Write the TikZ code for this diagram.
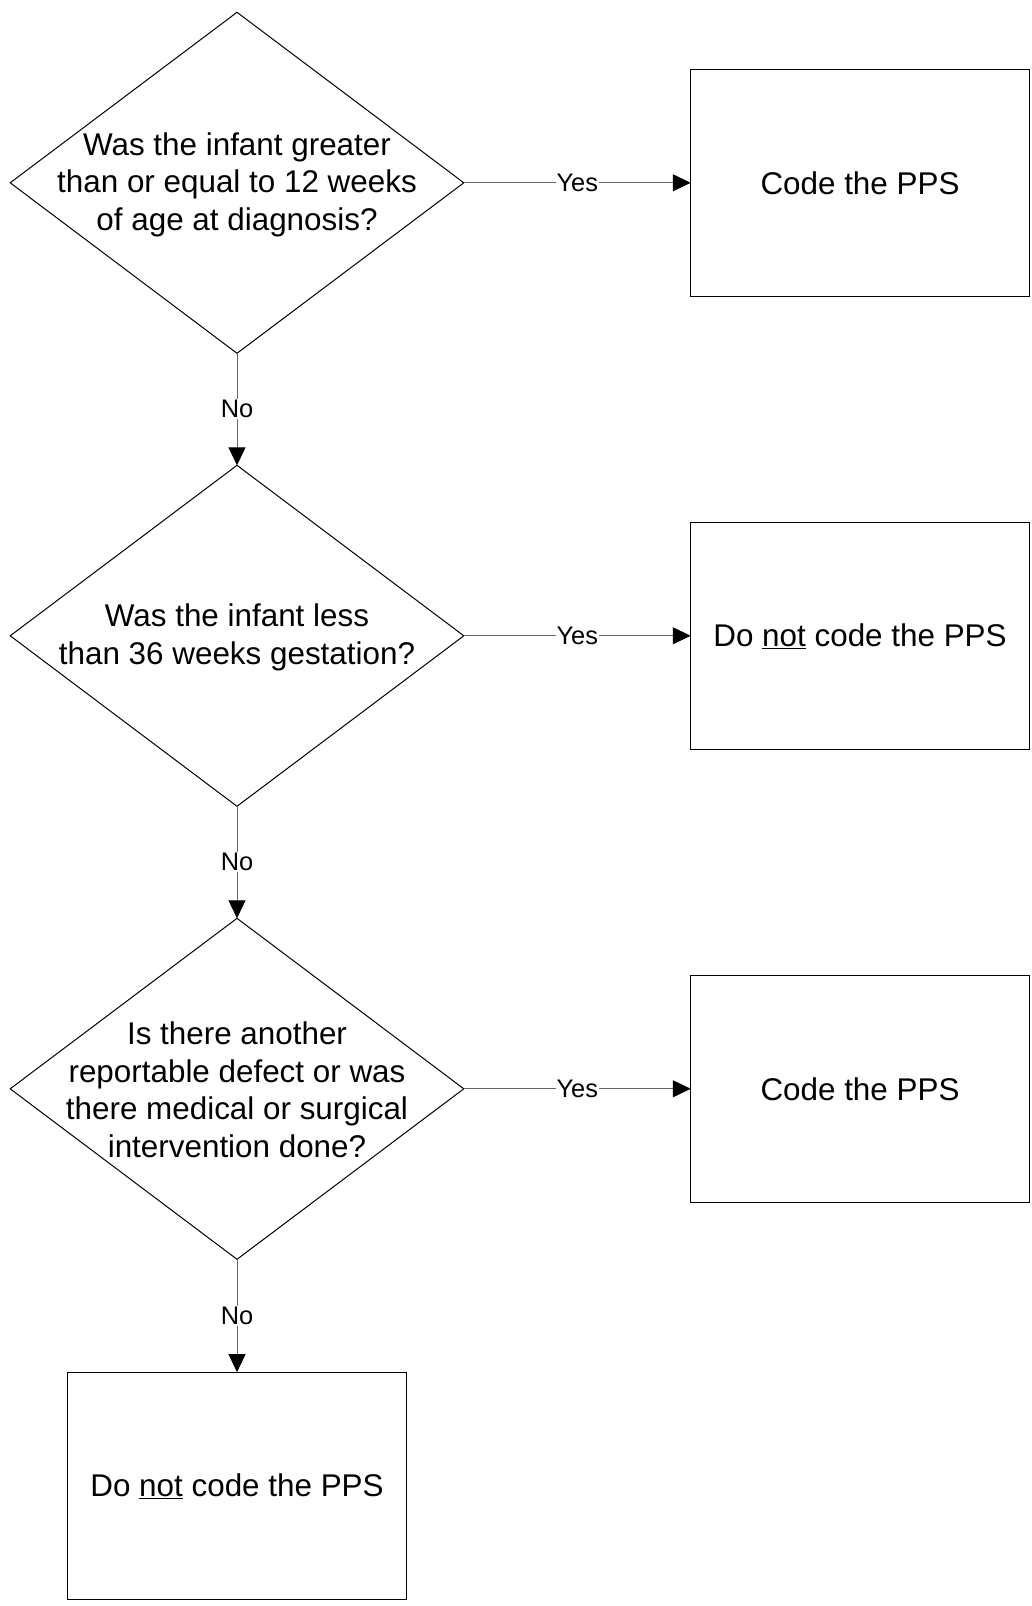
\documentclass[tikz,border=0pt]{standalone}
\usepackage{fontspec}
\setmainfont{Liberation Sans}
\usetikzlibrary{shapes.geometric, positioning, arrows.meta}

\begin{document}
\begin{tikzpicture}[x=1pt,y=1pt,node distance=453pt,on grid,
    decision/.style={diamond,draw,line width=1pt,minimum width=453.6pt,minimum height=341pt,inner sep=0pt,outer sep=0pt},
    question/.style={align=center,inner sep=0pt,font=\fontsize{31.4}{37.9}\selectfont},
    outcome/.style={rectangle,draw,line width=1pt,minimum width=338.5pt,minimum height=227.3pt,inner sep=0pt,outer sep=0pt,font=\fontsize{31.4}{37.9}\selectfont},
    flow/.style={draw=black!60,line width=1pt,-{Triangle[length=18pt,width=17pt,color=black]}},
    answer/.style={fill=white,inner sep=1pt,font=\fontsize{25.4}{29}\selectfont}]
  \useasboundingbox (0,0) rectangle (1031,-1606);
  \node[decision] (dec_1) at (237,-182.8) {};
    \node[question] (txt_1) at ([yshift=-2pt]dec_1) {Was the infant greater\\than or equal to 12 weeks\\of age at diagnosis?};
    \node[outcome] (box_1) [right=623pt of dec_1] {Code the PPS};
  \node[decision] (dec_2) [below=of dec_1] {};
    \node[question] (txt_2) at ([yshift=-2pt]dec_2) {Was the infant less\\than 36 weeks gestation?};
    \node[outcome] (box_2) [right=623pt of dec_2] {Do \underline{not} code the PPS};
  \node[decision] (dec_3) [below=of dec_2] {};
    \node[question] (txt_3) at ([yshift=-1pt]dec_3) {Is there another\\reportable defect or was\\there medical or surgical\\intervention done?};
    \node[outcome] (box_3) [right=623pt of dec_3] {Code the PPS};
  \node[outcome] (box_4) [below=397pt of dec_3] {Do \underline{not} code the PPS};

  \draw[flow] (dec_1.east) -- node[answer,midway] {Yes} (box_1.west);
  \draw[flow] (dec_2.east) -- node[answer,midway] {Yes} (box_2.west);
  \draw[flow] (dec_3.east) -- node[answer,midway] {Yes} (box_3.west);
  \draw[flow] (dec_1.south) -- node[answer,midway] {No} (dec_2.north);
  \draw[flow] (dec_2.south) -- node[answer,midway] {No} (dec_3.north);
  \draw[flow] (dec_3.south) -- node[answer,midway] {No} (box_4.north);
\end{tikzpicture}
\end{document}
